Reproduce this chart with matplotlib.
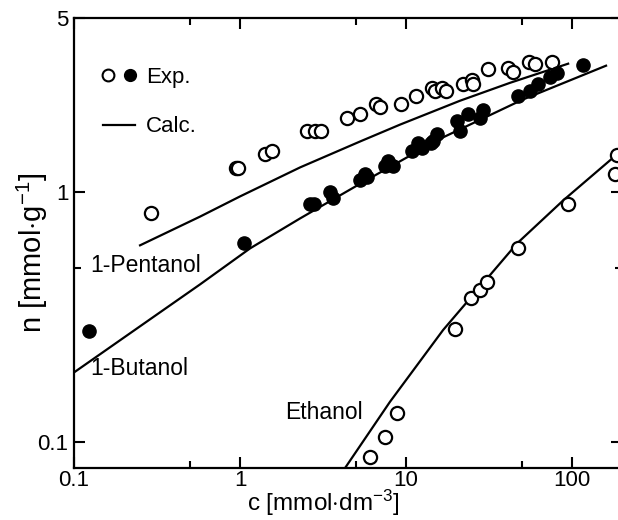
import matplotlib
matplotlib.use('Agg')
import matplotlib.pyplot as plt
from matplotlib.ticker import FixedLocator, FixedFormatter, NullFormatter
from matplotlib.legend_handler import HandlerTuple
from matplotlib.lines import Line2D

plt.rcParams['font.family'] = ['Liberation Sans', 'DejaVu Sans']
plt.rcParams['mathtext.fontset'] = 'custom'
plt.rcParams['mathtext.rm'] = 'Liberation Sans'
plt.rcParams['mathtext.it'] = 'Liberation Sans'

# experimental points, 1-pentanol (open)
pent_c = [0.29, 0.95, 0.97, 1.42, 1.56, 2.53, 2.83, 3.07, 4.41, 5.28, 6.6, 6.97,
          9.33, 11.5, 14.3, 15.0, 16.5, 17.4, 22.0, 25.0, 25.4, 31.2, 41.1, 44.1,
          55.1, 59.8, 75.8]
pent_n = [0.83, 1.25, 1.25, 1.42, 1.47, 1.77, 1.77, 1.77, 1.98, 2.07, 2.27, 2.19,
          2.27, 2.44, 2.63, 2.56, 2.63, 2.56, 2.73, 2.83, 2.73, 3.13, 3.16, 3.05,
          3.34, 3.28, 3.34]

# experimental points, 1-butanol (filled)
but_c = [0.123, 1.06, 2.64, 2.78, 3.49, 3.63, 5.28, 5.66, 5.82, 7.47, 7.79, 8.35,
         10.9, 11.8, 12.5, 14.1, 14.5, 15.4, 20.3, 21.1, 23.6, 27.9, 29.1,
         47.3, 55.8, 62.4, 73.6, 81.2, 116]
but_n = [0.278, 0.63, 0.895, 0.90, 1.0, 0.95, 1.12, 1.19, 1.15, 1.28, 1.34, 1.28,
         1.47, 1.58, 1.51, 1.58, 1.61, 1.72, 1.94, 1.77, 2.07, 1.98, 2.13,
         2.44, 2.56, 2.73, 2.91, 3.02, 3.25]

# experimental points, ethanol (open)
eth_c = [6.07, 7.47, 8.83, 19.7, 24.6, 27.9, 30.8, 47.3, 94.6, 181, 187]
eth_n = [0.087, 0.105, 0.131, 0.283, 0.377, 0.406, 0.437, 0.60, 0.90, 1.19, 1.41]

# calculated curves
pent_calc_c = [0.25, 0.574, 1.0, 2.30, 5.28, 9.2, 21.1, 42.3, 94.6]
pent_calc_n = [0.614, 0.80, 0.964, 1.26, 1.60, 1.87, 2.33, 2.75, 3.28]
but_calc_c = [0.1, 0.33, 0.574, 1.15, 2.30, 5.5, 16.0, 50.0, 160]
but_calc_n = [0.19, 0.331, 0.428, 0.597, 0.787, 1.10, 1.64, 2.35, 3.22]
eth_calc_c = [4.29, 8.0, 16.7, 46.6, 88.3, 200]
eth_calc_n = [0.0787, 0.145, 0.281, 0.625, 0.929, 1.48]

# labels
curve_names = ['1-Pentanol', '1-Butanol', 'Ethanol']
name_c = [0.125, 0.125, 1.87]
name_n = [0.51, 0.197, 0.131]

fig = plt.figure(figsize=(6.18, 5.2), dpi=100)
ax = fig.add_axes([0.1197, 0.1, 0.887, 0.8654])
ax.set_xscale('log')
ax.set_yscale('log')
ax.set_xlim(0.1, 200)
ax.set_ylim(0.0787, 5)

lw = 1.6
ax.plot(pent_calc_c, pent_calc_n, color='black', lw=lw)
ax.plot(but_calc_c, but_calc_n, color='black', lw=lw)
ax.plot(eth_calc_c, eth_calc_n, color='black', lw=lw)

ms = 9.5
ax.plot(pent_c, pent_n, 'o', mfc='white', mec='black', mew=1.6, ms=ms, ls='none')
ax.plot(but_c, but_n, 'o', mfc='black', mec='black', ms=ms, ls='none')
ax.plot(eth_c, eth_n, 'o', mfc='white', mec='black', mew=1.6, ms=ms, ls='none')

for name, c, n in zip(curve_names, name_c, name_n):
    ax.text(c, n, name, fontsize=16.5, va='center', ha='left')

# legend
h_open = Line2D([], [], marker='o', mfc='white', mec='black', mew=1.5, ms=8.5, ls='none')
h_fill = Line2D([], [], marker='o', mfc='black', mec='black', ms=8.5, ls='none')
h_line = Line2D([], [], color='black', lw=lw)
ax.legend([(h_open, h_fill), h_line], ['Exp.', 'Calc.'],
          handler_map={tuple: HandlerTuple(ndivide=None, pad=0.55)},
          loc='upper left', bbox_to_anchor=(0.053, 0.892), frameon=False,
          borderpad=0, borderaxespad=0,
          fontsize=16, handlelength=1.45, handletextpad=0.5, labelspacing=1.3)

ax.xaxis.set_major_locator(FixedLocator([0.1, 1, 10, 100]))
ax.xaxis.set_major_formatter(FixedFormatter(['0.1', '1', '10', '100']))
ax.xaxis.set_minor_locator(FixedLocator([0.5, 5, 50]))
ax.xaxis.set_minor_formatter(NullFormatter())
ax.yaxis.set_major_locator(FixedLocator([0.1, 1, 5]))
ax.yaxis.set_major_formatter(FixedFormatter(['0.1', '1', '5']))
ax.yaxis.set_minor_locator(FixedLocator([0.5]))
ax.yaxis.set_minor_formatter(NullFormatter())

ax.tick_params(which='both', direction='in', top=True, right=True, width=1.5,
               labelsize=16)
ax.tick_params(axis='x', which='both', pad=1.5)
ax.tick_params(axis='y', which='both', pad=4)
ax.tick_params(which='major', length=8)
ax.tick_params(which='minor', length=5)
for s in ax.spines.values():
    s.set_linewidth(1.6)

ax.set_xlabel('c [mmol$\\cdot$dm$^{-3}$]', fontsize=17.5)
ax.set_ylabel('n [mmol$\\cdot$g$^{-1}$]', fontsize=21)
ax.xaxis.set_label_coords(0.455, -0.045)
ax.yaxis.set_label_coords(-0.044, 0.478)

fig.savefig('out.png', dpi=100)
